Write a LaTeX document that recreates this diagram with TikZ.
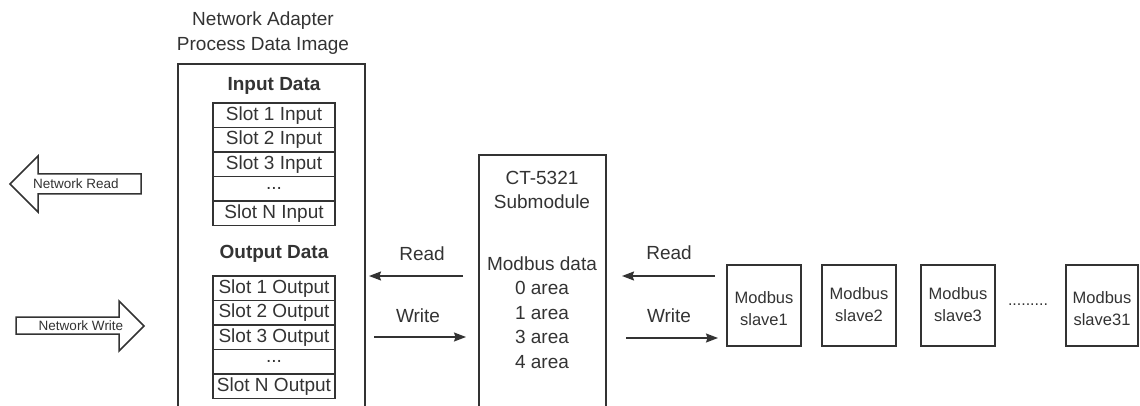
\documentclass[tikz,border=0pt]{standalone}
\usepackage{fontspec}
\setmainfont{Liberation Sans}
\usetikzlibrary{arrows.meta}
\definecolor{ink}{HTML}{333333}
\begin{document}
\begin{tikzpicture}[x=1pt,y=-1pt,
  every node/.style={text=ink},
  txt/.style={font=\fontsize{19}{24.5}\selectfont, align=center, inner sep=0pt},
  small/.style={font=\fontsize{13.5}{16}\selectfont, inner sep=0pt},
  slavetxt/.style={font=\fontsize{16.5}{22}\selectfont, align=center, inner sep=0pt},
  bold/.style={font=\fontsize{19}{22}\selectfont\bfseries, inner sep=0pt},
  box/.style={draw=ink, line width=1.5pt},
  slot/.style={draw=ink, line width=1.5pt, minimum width=122pt, minimum height=24.5pt, inner sep=0pt, font=\fontsize{19}{22}\selectfont},
  conn/.style={draw=ink, line width=1.5pt, -{Stealth[length=12pt,width=9pt,inset=1.5pt]}},
  blockarrow/.style={draw=ink, line width=1.5pt, fill=white}
]
\useasboundingbox (0,0) rectangle (1140,406);

% title
\node[txt] (title) at (263,33) {Network Adapter\\Process Data Image};
% outer box
\draw[box] (178,412) |- (365,64) -- (365,412);

\node[bold] (indata) at (274,86) {Input Data};
\node[slot] (in1) at (274,115.3) {Slot 1 Input};
\node[slot] (in2) at (274,139.8) {Slot 2 Input};
\node[slot] (in3) at (274,164.3) {Slot 3 Input};
\node[slot] (in4) at (274,188.8) {...};
\node[slot] (in5) at (274,213.3) {Slot N Input};

\node[bold] (outdata) at (274,254) {Output Data};
\node[slot] (out1) at (274,288.3) {Slot 1 Output};
\node[slot] (out2) at (274,312.8) {Slot 2 Output};
\node[slot] (out3) at (274,337.3) {Slot 3 Output};
\node[slot] (out4) at (274,361.8) {...};
\node[slot] (out5) at (274,386.3) {Slot N Output};

% network arrows
\draw[blockarrow] (141,174) -- (38,174) -- (38,156) -- (10,184) -- (38,212) -- (38,194) -- (141,194) -- cycle;
\node[small] (nread) at (76,184) {Network Read};
\draw[blockarrow] (16,317) -- (119,317) -- (119,301) -- (144,326) -- (119,351) -- (119,334) -- (16,334) -- cycle;
\node[small] (nwrite) at (81,325.5) {Network Write};

% CT-5321 box
\draw[box] (479,412) |- (606,155) -- (606,412);
\node[txt] (ct) at (542,190) {CT-5321\\Submodule};
\node[txt] (md) at (542,312.5) {Modbus data\\0 area\\1 area\\3 area\\4 area};

% slaves
\node[box, minimum width=74pt, minimum height=81pt, inner sep=0pt] (s1) at (764,305.5) {};
\node[slavetxt] (s1t) at (764,309) {Modbus\\slave1};
\node[box, minimum width=74pt, minimum height=81pt, inner sep=0pt] (s2) at (859,305.5) {};
\node[slavetxt] (s2t) at (859,304.5) {Modbus\\slave2};
\node[box, minimum width=74pt, minimum height=81pt, inner sep=0pt] (s3) at (958,305.5) {};
\node[slavetxt] (s3t) at (958,304.5) {Modbus\\slave3};
\node[box, minimum width=72pt, minimum height=81pt, inner sep=0pt] (s31) at (1102,305.5) {};
\node[slavetxt] (s31t) at (1102,309) {Modbus\\slave31};
\node[inner sep=0pt, font=\fontsize{16}{16}\selectfont] (dots) at (1028,305) {.........};

% connectors
\coordinate (lrS) at (463,276); \coordinate (lrE) at (369,276);
\coordinate (lwS) at (374,337); \coordinate (lwE) at (466,337);
\coordinate (rrS) at (715,276); \coordinate (rrE) at (622,276);
\coordinate (rwS) at (626,338); \coordinate (rwE) at (718,338);
\draw[conn] (lrS) -- (lrE);
\draw[conn] (lwS) -- (lwE);
\draw[conn] (rrS) -- (rrE);
\draw[conn] (rwS) -- (rwE);
\node[txt] (lread) at (422,254) {Read};
\node[txt] (lwrite) at (418,316) {Write};
\node[txt] (rread) at (669,253) {Read};
\node[txt] (rwrite) at (669,316) {Write};
\end{tikzpicture}
\end{document}
